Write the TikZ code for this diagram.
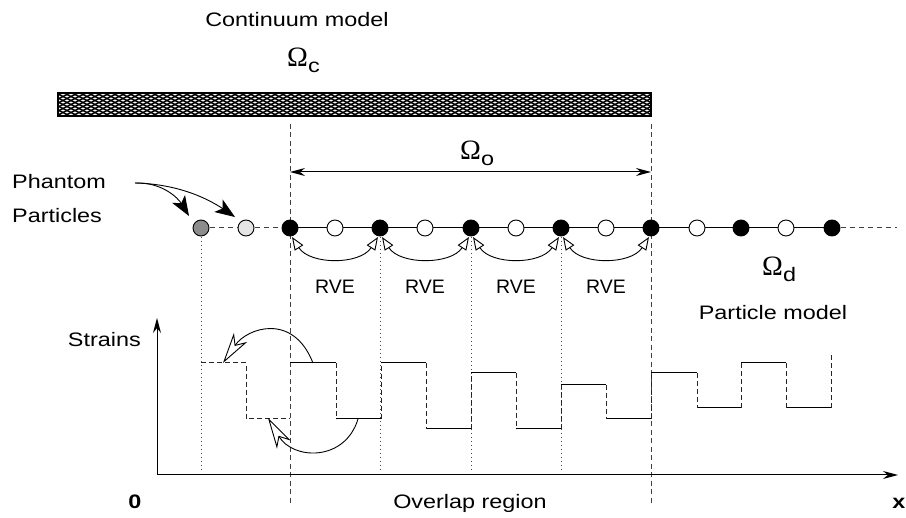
\documentclass[tikz,border=0pt]{standalone}
\usepackage{fontspec}
\setmainfont{Liberation Sans}
\newfontfamily\omegafont{Liberation Serif}
\usetikzlibrary{arrows.meta}
\tikzset{
  part/.style={circle, draw, line width=0.9pt, minimum size=16pt, inner sep=0pt},
  blk/.style={part, fill=black},
  wht/.style={part, fill=white},
  ovl/.style={dash pattern=on 5pt off 3.5pt, line width=0.9pt, black!75},
  dotl/.style={dash pattern=on 1pt off 3pt, line width=1pt, black!70},
  hseg/.style={line width=1pt},
  vseg/.style={line width=1pt, dash pattern=on 5pt off 3pt, black!85},
  lbl/.style={anchor=base, inner sep=0pt},
  rve/.style={line width=0.9pt, {Triangle[open, length=13pt, width=10pt]}-{Triangle[open, length=13pt, width=10pt]}},
  sarr/.style={line width=0.9pt, -{Stealth[open, length=31pt, width=16pt, inset=9pt]}},
  parr/.style={line width=0.9pt, -{Stealth[length=20pt, width=15pt, inset=5pt]}},
  axis/.style={line width=1pt, -{Stealth[length=15pt, width=8pt]}},
}
\newcommand{\wt}[1]{\scalebox{1.2}[1]{#1}}
\newcommand{\om}[1]{{\omegafont\fontsize{28}{28}\selectfont Ω}\raisebox{-6pt}{\wt{#1}}}
\begin{document}
\begin{tikzpicture}[x=1pt, y=-1pt, font=\fontsize{19.5}{22}\selectfont]
\useasboundingbox (0,0) rectangle (906,518);

% hatched continuum bar
\begin{scope}
  \clip (58,93) rectangle (651,116);
  \fill[white] (58,93) rectangle (651,116);
  \foreach \a in {6,14,...,660} {
    \draw[line width=1.5pt] (\a,117) -- ++(48,-24);
    \draw[line width=1.5pt] (\a,92) -- ++(48,24);
  }
\end{scope}
\draw[line width=1.2pt] (58,93) rectangle (651,116);

% texts
\node[lbl] (cm) at (297,27) {\wt{Continuum model}};
\node[lbl, anchor=base west] (oc) at (287,67) {\om{c}};
\node[lbl, anchor=base west] (oo) at (460,160) {\om{o}};
\node[lbl, anchor=base west] (od) at (762,276) {\om{d}};
\node[lbl] (pm) at (773,320) {\wt{Particle model}};
\node[lbl, anchor=base west] (ph1) at (12,189) {\wt{Phantom}};
\node[lbl, anchor=base west] (ph2) at (12,223) {\wt{Particles}};
\node[lbl, anchor=base east] (st) at (141,347) {\wt{Strains}};
\node[lbl] (zero) at (135,509) {\wt{\bfseries 0}};
\node[lbl] (olr) at (470,509) {\wt{Overlap region}};
\node[lbl] (xl) at (899,509) {\wt{\bfseries x}};
\foreach \x/\n in {335/1,425/2,516/3,606/4} \node[lbl] (rve\n) at (\x,294) {RVE};

% overlap region boundaries
\coordinate (ol1t) at (290,124); \coordinate (ol1b) at (290,505);
\coordinate (ol2t) at (651,124); \coordinate (ol2b) at (651,505);
\draw[ovl] (ol1t) -- (ol1b);
\draw[ovl] (ol2t) -- (ol2b);
\coordinate (oa1) at (290,172); \coordinate (oa2) at (651,172);
\draw[line width=1pt, {Stealth[length=15pt, width=8pt]}-{Stealth[length=15pt, width=8pt]}] (oa1) -- (oa2);

% dotted projection lines
\foreach \x/\n in {201/a,380/b,471/c,561/d} {
  \coordinate (dt\n) at (\x,237); \coordinate (db\n) at (\x,470);
  \draw[dotl] (dt\n) -- (db\n);
}

% particles
\foreach \x [count=\i from 0] in {201,246,290,335,380,425,471,516,561,606,651,697,741,786,832}
  \coordinate (c\i) at (\x,228);
\coordinate (cend) at (897,228);
\draw[dash pattern=on 5pt off 4pt, line width=1pt, black!75] (c0) -- (c2);
\draw[line width=1pt] (c2) -- (c14);
\draw[dash pattern=on 5pt off 4pt, line width=1pt, black!75] (c14) -- (cend);
\node[part, fill=black!45] (p0) at (c0) {};
\node[part, fill=black!10] (p1) at (c1) {};
\foreach \i in {2,4,6,8,10,12,14} \node[blk] (p\i) at (c\i) {};
\foreach \i in {3,5,7,9,11,13} \node[wht] (p\i) at (c\i) {};

% phantom arrows
\coordinate (phs) at (135,183);
\draw[parr] (phs) .. controls (162,182) and (178,198) .. ([shift={(-6,-6)}]p0.north west);
\draw[parr] (phs) .. controls (180,184) and (210,200) .. ([shift={(-5,-5)}]p1.north west);

% RVE arcs
\foreach \a/\b in {2/4,4/6,6/8,8/10}
  \draw[rve] ([shift={(2,9)}]p\a.center) .. controls +(18,28) and +(-18,28) .. ([shift={(-2,9)}]p\b.center);

% axes
\coordinate (O) at (157,475);
\coordinate (ytop) at (157,318);
\coordinate (xend) at (898,475);
\draw[axis] (O) -- (ytop);
\draw[axis] (O) -- (xend);

% strain steps: phantom part dashed
\draw[vseg] (201,363) -- (246,363) -- (246,419) -- (290,419);
% horizontal solid segments
\foreach \xa/\xb/\y in {290/336/363,336/381/419,381/426/363,426/471/429,471/516/373,516/561/429,561/606/385,606/651/419,651/697/373,697/741/408,741/786/363,786/831/408}
  \draw[hseg] (\xa,\y) -- (\xb,\y);
% vertical dashed segments
\foreach \x/\ya/\yb in {336/363/419,381/419/363,426/363/429,471/429/373,516/373/429,561/429/385,606/385/419,651/419/373,697/373/408,741/408/363,786/363/408,831/408/352}
  \draw[vseg] (\x,\ya) -- (\x,\yb);

% strain transfer arrows
\coordinate (s1) at (313,363); \coordinate (t1) at (223,363);
\draw[sarr] (s1) .. controls (293,312) and (247,328) .. (t1);
\coordinate (s2) at (358,419); \coordinate (t2) at (268,418);
\draw[sarr] (s2) .. controls (345,462) and (293,460) .. (t2);
\end{tikzpicture}
\end{document}
